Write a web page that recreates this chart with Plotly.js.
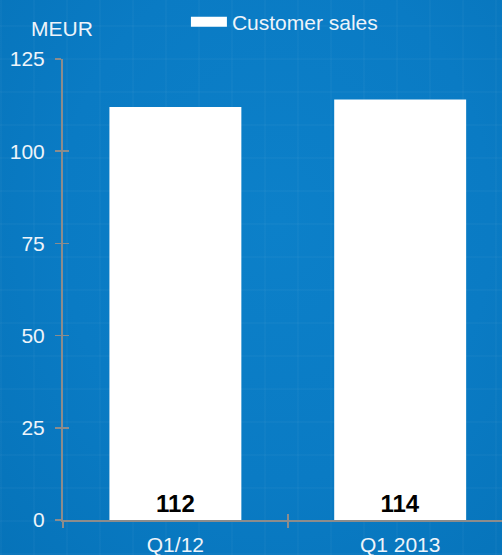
<!DOCTYPE html>
<html>
<head>
<meta charset="utf-8">
<script src="https://cdn.plot.ly/plotly-3.0.1.min.js"></script>
<style>
  html, body { margin: 0; padding: 0; }
  body {
    width: 502px; height: 555px; overflow: hidden;
    background-color: #0a7bc4;
    background-image:
      repeating-linear-gradient(0deg, rgba(255,255,255,0.025) 0px, rgba(255,255,255,0.025) 2px, transparent 2px, transparent 33px),
      repeating-linear-gradient(90deg, rgba(255,255,255,0.025) 0px, rgba(255,255,255,0.025) 2px, transparent 2px, transparent 33px),
      radial-gradient(ellipse at 55% 40%, #0c80c9 0%, #0a7bc4 55%, #0673b9 100%);
  }
  #chart { width: 502px; height: 555px; }
</style>
</head>
<body>
<div id="chart"></div>
<script>
const categories = ["Q1/12", "Q1 2013"];
const salesValues = [112, 114];
const seriesName = "Customer sales";
const yTicks = [0, 25, 50, 75, 100, 125];
const unitLabel = "MEUR";

const font = "Liberation Sans, Arial, sans-serif";
const axisColor = "#8c8c8c";
const textColor = "#eef4fa";

const data = [
  {
    type: "bar",
    name: seriesName,
    x: categories,
    y: salesValues,
    width: 0.587,
    showlegend: false,
    marker: { color: "#ffffff", line: { width: 0 } },
    text: salesValues.map(String),
    textposition: "inside",
    insidetextanchor: "start",
    textangle: 0,
    textfont: { family: font, size: 24, color: "#000000", weight: "bold" },
    hoverinfo: "skip"
  },
  {
    // legend entry only (wide white key like the reference)
    type: "scatter",
    mode: "lines",
    name: seriesName,
    x: [null],
    y: [null],
    line: { color: "#ffffff", width: 13 },
    showlegend: true,
    hoverinfo: "skip"
  },
  {
    type: "bar",
    x: categories,
    y: [null, null],
    xaxis: "x2",
    yaxis: "y2",
    showlegend: false,
    hoverinfo: "skip"
  }
];

const layout = {
  width: 502,
  height: 555,
  margin: { l: 62.5, r: 0, t: 59, b: 35, pad: 0 },
  paper_bgcolor: "rgba(0,0,0,0)",
  plot_bgcolor: "rgba(0,0,0,0)",
  font: { family: font, color: textColor, size: 21 },
  showlegend: true,
  legend: {
    orientation: "h",
    x: 0.28, xanchor: "left",
    y: 1.08, yanchor: "middle",
    itemwidth: 36,
    font: { family: font, size: 21, color: textColor },
    bgcolor: "rgba(0,0,0,0)"
  },
  xaxis: {
    type: "category",
    categoryarray: categories,
    range: [-0.5, 1.453],
    tickson: "boundaries",
    ticks: "outside",
    ticklen: 6,
    tickwidth: 1.5,
    tickcolor: axisColor,
    showline: true,
    linecolor: axisColor,
    linewidth: 2,
    showgrid: false,
    zeroline: false,
    ticklabelstandoff: 5,
    tickfont: { family: font, size: 21, color: textColor },
    fixedrange: true
  },
  yaxis: {
    range: [0, 125],
    tickvals: yTicks,
    ticks: "outside",
    ticklen: 6,
    tickwidth: 1.5,
    tickcolor: axisColor,
    showline: true,
    linecolor: axisColor,
    linewidth: 2,
    showgrid: false,
    zeroline: false,
    ticklabelstandoff: 6,
    tickfont: { family: font, size: 21, color: textColor },
    fixedrange: true
  },
  xaxis2: {
    type: "category",
    categoryarray: categories,
    overlaying: "x",
    anchor: "y2",
    range: [-0.5, 1.453],
    tickson: "boundaries",
    ticks: "inside",
    ticklen: 6,
    tickwidth: 1.5,
    tickcolor: axisColor,
    showticklabels: false,
    showline: false,
    showgrid: false,
    zeroline: false,
    fixedrange: true
  },
  yaxis2: {
    overlaying: "y",
    anchor: "x2",
    side: "left",
    range: [0, 125],
    tickvals: yTicks,
    ticks: "inside",
    ticklen: 6,
    tickwidth: 1.5,
    tickcolor: axisColor,
    showticklabels: false,
    showline: false,
    showgrid: false,
    zeroline: false,
    fixedrange: true
  },
  annotations: [
    {
      text: unitLabel,
      xref: "paper", yref: "paper",
      x: -0.003, y: 1.067,
      xanchor: "center", yanchor: "middle",
      showarrow: false,
      font: { family: font, size: 21, color: textColor }
    }
  ]
};

Plotly.newPlot("chart", data, layout, { displayModeBar: false, staticPlot: true });
</script>
</body>
</html>
